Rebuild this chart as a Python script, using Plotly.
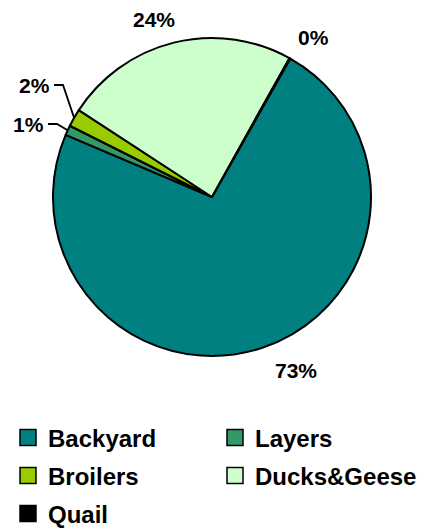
import math
import plotly.graph_objects as go

# ---- data ----
categories = ["Backyard", "Layers", "Broilers", "Ducks&Geese", "Quail"]
values = [73.2, 1.0, 1.8, 23.9, 0.1]
colors = ["#008080", "#339966", "#99CC00", "#CCFFCC", "#000000"]

# ---- layout constants (pixels) ----
W, H = 424, 528
CX, CY, R = 212, 197, 159
START_ANGLE = 29.5
FONT = "Arial, Liberation Sans, sans-serif"

# label anchor positions (pixels) and anchors
label_xy = [(296, 370), (46, 124), (52, 85), (154, 19), (313, 37)]
label_anchor = ["center", "right", "right", "center", "center"]
# leader elbows for small slices (None = no leader)
leader_elbow = [None, (57, 124), (63, 85), None, None]
# legend row of each category and legend row centre y (pixels)
legend_row = [0, 0, 1, 1, 2]
legend_row_y = [438, 476, 514]
legend_ids = ["legend", "legend2", "legend3"]

def px(x):
    return x / W

def py(y):
    return 1 - y / H

total = sum(values)
pct_text = [f"{round(v / total * 100)}%" for v in values]

fig = go.Figure()
fig.add_trace(go.Pie(
    labels=categories,
    values=values,
    sort=False,
    direction="clockwise",
    rotation=START_ANGLE,
    marker=dict(colors=colors, line=dict(color="#000000", width=2)),
    textinfo="none",
    hoverinfo="label+percent",
    showlegend=False,
    domain=dict(x=[px(CX - R), px(CX + R)], y=[py(CY + R), py(CY - R)]),
))

# legend entries via dummy traces (bigger square symbols)
for name, col, row in zip(categories, colors, legend_row):
    fig.add_trace(go.Scatter(
        x=[None], y=[None], mode="markers", name=name,
        marker=dict(symbol="square", size=16, color=col,
                    line=dict(color="#000000", width=1.5)),
        showlegend=True, hoverinfo="skip", legend=legend_ids[row],
    ))

annotations = []
shapes = []
angle = START_ANGLE
for i, v in enumerate(values):
    span = v / total * 360
    mid = math.radians(angle + span / 2)
    angle += span
    lx, ly = label_xy[i]
    annotations.append(dict(
        x=px(lx), y=py(ly), xref="paper", yref="paper",
        text=f"<b>{pct_text[i]}</b>", showarrow=False,
        xanchor=label_anchor[i], yanchor="middle",
        font=dict(family=FONT, size=21, color="#000000"),
    ))
    if leader_elbow[i] is not None:
        ex = CX + R * math.sin(mid)
        ey = CY - R * math.cos(mid)
        bx, by = leader_elbow[i]
        path = (f"M {px(ex)},{py(ey)} L {px(bx)},{py(by)} "
                f"L {px(lx + 2)},{py(by)}")
        shapes.append(dict(type="path", xref="paper", yref="paper",
                           path=path, line=dict(color="#000000", width=1.8)))

legend_common = dict(
    orientation="h",
    x=px(8), xanchor="left",
    yanchor="middle",
    entrywidth=162, entrywidthmode="pixels",
    font=dict(family=FONT, size=24, color="#000000", weight="bold"),
    bgcolor="rgba(0,0,0,0)",
    itemclick=False, itemdoubleclick=False,
)

layout_legends = {}
for k, lid in enumerate(legend_ids):
    layout_legends[lid] = dict(legend_common, y=py(legend_row_y[k]))

fig.update_layout(
    width=W, height=H,
    margin=dict(l=0, r=0, t=0, b=0, autoexpand=False),
    paper_bgcolor="#FFFFFF",
    plot_bgcolor="#FFFFFF",
    xaxis=dict(visible=False),
    yaxis=dict(visible=False),
    annotations=annotations,
    shapes=shapes,
    font=dict(family=FONT),
    **layout_legends,
)

fig.write_html(
    "out.html",
    config={"displayModeBar": False},
    post_script="document.body.style.margin='0';document.body.style.padding='0';",
)
